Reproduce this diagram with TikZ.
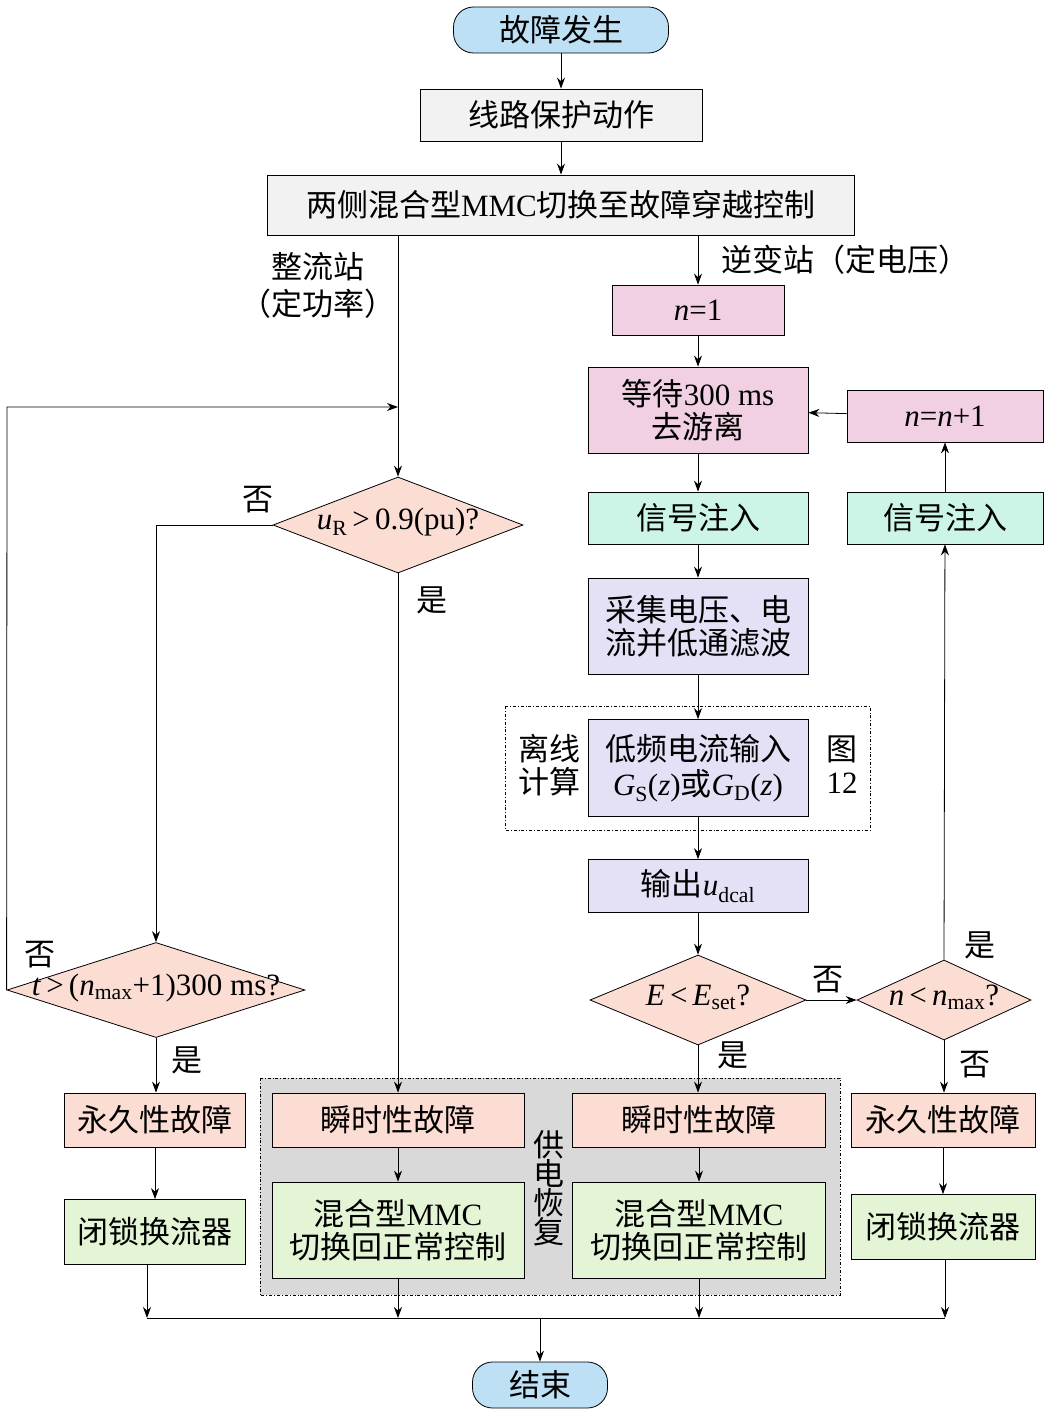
\documentclass[tikz,border=0pt]{standalone}
\usepackage{fontspec}
\setmainfont{Liberation Serif}
\newfontfamily\cjk{Noto Sans CJK SC}
\usetikzlibrary{shapes.geometric,arrows.meta}
\newcommand\zh[1]{{\cjk #1}}
\definecolor{cblue}{HTML}{BDE0F5}
\definecolor{cgray}{HTML}{F2F2F2}
\definecolor{cpink}{HTML}{F0D0E2}
\definecolor{cmint}{HTML}{CCF5E8}
\definecolor{clav}{HTML}{E4E0F5}
\definecolor{csal}{HTML}{FBDDD3}
\definecolor{cgreen}{HTML}{E4F5D6}
\begin{document}
\begin{tikzpicture}[x=1pt,y=-1pt,
  every node/.style={font=\fontsize{31}{37}\selectfont},
  box/.style={draw,thick,inner sep=0,align=center},
  dia/.style={draw,thick,diamond,inner sep=0,fill=csal},
  arr/.style={thick,-{Stealth[length=11pt,width=8pt]}},
  ln/.style={thick}]
\useasboundingbox (0,0) rectangle (1049,1412);
\node[box,rounded corners=20pt,fill=cblue,minimum width=215,minimum height=46] (start) at (561,30) {\zh{故障发生}};
\node[box,fill=cgray,minimum width=282,minimum height=52] (prot) at (561,115) {\zh{线路保护动作}};
\node[box,fill=cgray,minimum width=587,minimum height=60] (sw) at (561,205) {\zh{两侧混合型}MMC\zh{切换至故障穿越控制}};
\node[align=center] at (318,285) {\zh{整流站}\\\zh{（定功率）}};
\node at (845,260) {\zh{逆变站（定电压）}};
\node[box,fill=cpink,minimum width=172,minimum height=50] (n1) at (698,310) {\textit{n}=1};
\node[box,fill=cpink,minimum width=220,minimum height=86] (wait) at (698,410) {\zh{等待}300 ms\\[-4pt]\zh{去游离}};
\node[box,fill=cpink,minimum width=196,minimum height=52] (nn) at (945,416) {\textit{n}=\textit{n}+1};
\node[box,fill=cmint,minimum width=220,minimum height=52] (sig1) at (698,518) {\zh{信号注入}};
\node[box,fill=cmint,minimum width=196,minimum height=52] (sig2) at (945,518) {\zh{信号注入}};
\node[box,fill=clav,minimum width=220,minimum height=96] (col) at (698,626) {\zh{采集电压、电}\\[-4pt]\zh{流并低通滤波}};
\draw[thick,dash dot] (505,706) rectangle (870,830);
\node[box,fill=clav,minimum width=220,minimum height=97] (low) at (698,768) {\zh{低频电流输入}\\[-2pt]\textit{G}\textsubscript{S}(\textit{z})\zh{或}\textit{G}\textsubscript{D}(\textit{z})};
\node[align=center] at (549,765) {\zh{离线}\\[-4pt]\zh{计算}};
\node[align=center] at (842,765) {\zh{图}\\[-4pt]12};
\node[box,fill=clav,minimum width=220,minimum height=53] (out) at (698,886) {\zh{输出}\textit{u}\textsubscript{dcal}};
\node[dia,minimum width=216,minimum height=90] (E) at (698,1000) {};
\node at (698,997) {\textit{E}\,<\,\textit{E}\textsubscript{set}?};
\node[dia,minimum width=174,minimum height=80] (N) at (944,1000) {};
\node at (944,997) {\textit{n}\,<\,\textit{n}\textsubscript{max}?};
\node[dia,minimum width=250,minimum height=96] (U) at (398,525) {};
\node at (398,522) {\textit{u}\textsubscript{R}\,>\,0.9(pu)?};
\node[dia,minimum width=298,minimum height=95] (T) at (156,990) {};
\node at (156,988) {\textit{t}\,>\,(\textit{n}\textsubscript{max}+1)300 ms?};
\draw[thick,dash dot,fill=black!15] (260,1078) rectangle (840,1295);
\node[box,fill=csal,minimum width=181,minimum height=54] (p1) at (155,1120) {\zh{永久性故障}};
\node[box,fill=cgreen,minimum width=181,minimum height=65] (b1) at (155,1232) {\zh{闭锁换流器}};
\node[box,fill=csal,minimum width=252,minimum height=54] (s1) at (398,1120) {\zh{瞬时性故障}};
\node[box,fill=cgreen,minimum width=252,minimum height=96] (m1) at (398,1230) {\zh{混合型}MMC\\[-4pt]\zh{切换回正常控制}};
\node[box,fill=csal,minimum width=253,minimum height=54] (s2) at (699,1120) {\zh{瞬时性故障}};
\node[box,fill=cgreen,minimum width=253,minimum height=96] (m2) at (699,1230) {\zh{混合型}MMC\\[-4pt]\zh{切换回正常控制}};
\node[align=center] at (549,1188) {\zh{供}\\[-8pt]\zh{电}\\[-8pt]\zh{恢}\\[-8pt]\zh{复}};
\node[box,fill=csal,minimum width=184,minimum height=54] (p2) at (943,1120) {\zh{永久性故障}};
\node[box,fill=cgreen,minimum width=184,minimum height=65] (b2) at (943,1227) {\zh{闭锁换流器}};
\node[box,rounded corners=20pt,fill=cblue,minimum width=135,minimum height=46] (end) at (540,1385) {\zh{结束}};
% labels
\node at (258,500) {\zh{否}};
\node at (432,600) {\zh{是}};
\node at (40,955) {\zh{否}};
\node at (187,1060) {\zh{是}};
\node at (828,980) {\zh{否}};
\node at (733,1055) {\zh{是}};
\node at (980,945) {\zh{是}};
\node at (975,1065) {\zh{否}};
% connectors
\draw[arr] (start) -- (prot);
\draw[arr] (prot) -- (sw);
\draw[arr] (sw.south -| U.north) -- (U.north);
\coordinate (lp) at (398,407);
\draw[arr] (T.west) -- (7,407) -- (lp);
\draw[arr] (sw.south -| n1.north) -- (n1.north);
\draw[arr] (n1) -- (wait);
\draw[arr] (wait) -- (sig1);
\draw[arr] (sig1) -- (col);
\draw[arr] (col) -- (low);
\draw[arr] (low) -- (out);
\draw[arr] (out) -- (E);
\draw[arr] (E.east) -- (N.west);
\draw[arr] (N.north) -- (sig2);
\draw[arr] (sig2) -- (nn);
\draw[arr] (nn) -- (wait);
\draw[arr] (N.south) -- (p2.north -| N.south);
\draw[arr] (E.south) -- (s2.north -| E.south);
\draw[arr] (U.west) -- (156,525) -- (T.north);
\draw[arr] (U.south) -- (s1.north);
\draw[arr] (T.south) -- (p1.north -| T.south);
\draw[arr] (s1) -- (m1);
\draw[arr] (s2) -- (m2);
\draw[arr] (p1) -- (b1);
\draw[arr] (p2) -- (b2);
\coordinate (busL) at (147,1318);
\coordinate (busR) at (945,1318);
\draw[ln] (busL) -- (busR);
\draw[arr] (b1.south -| busL) -- (busL);
\draw[arr] (m1.south) -- (m1.south |- busL);
\draw[arr] (m2.south) -- (m2.south |- busL);
\draw[arr] (b2.south -| busR) -- (busR);
\draw[arr] (540,1318) -- (end.north);
\end{tikzpicture}
\end{document}
